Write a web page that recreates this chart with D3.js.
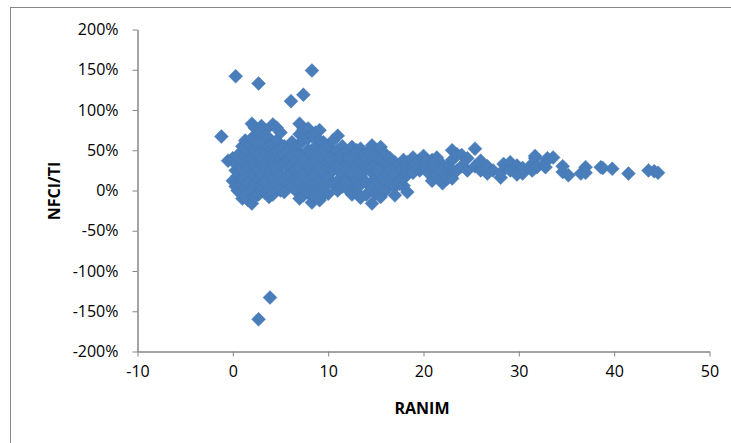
<!DOCTYPE html>
<html>
<head>
<meta charset="utf-8">
<script src="https://cdn.jsdelivr.net/npm/d3@7/dist/d3.min.js"></script>
<style>
  html, body { margin: 0; padding: 0; background: #fff; }
  svg { display: block; }
  text { font-family: "Open Sans", "Liberation Sans", sans-serif; }
</style>
</head>
<body>
<svg id="chart" width="731" height="443"></svg>
<script>
// ---- data ----
const ranim = [
  -1.2, -0.5,
  0.0, 0.0,
  0.3, 0.3, 0.3,
  0.5, 0.5, 0.5,
  0.8, 0.8, 0.8, 0.8,
  1.0, 1.0, 1.0, 1.0,
  1.3, 1.3, 1.3, 1.3, 1.3,
  1.6, 1.6, 1.6, 1.6, 1.6,
  2.0, 2.0, 2.0, 2.0, 2.0, 2.0,
  2.3, 2.3, 2.3, 2.3, 2.3, 2.3,
  2.7, 2.7, 2.7, 2.7, 2.7, 2.7,
  3.0, 3.0, 3.0, 3.0, 3.0,
  3.4, 3.4, 3.4, 3.4, 3.4, 3.4,
  3.8, 3.8, 3.8, 3.8, 3.8, 3.8,
  4.2, 4.2, 4.2, 4.2, 4.2, 4.2,
  4.6, 4.6, 4.6, 4.6, 4.6,
  5.0, 5.0, 5.0, 5.0, 5.0, 5.0,
  5.4, 5.4, 5.4, 5.4, 5.4,
  5.8, 5.8, 5.8, 5.8, 5.8,
  6.2, 6.2, 6.2, 6.2, 6.2,
  6.6, 6.6, 6.6, 6.6, 6.6,
  7.0, 7.0, 7.0, 7.0, 7.0, 7.0, 7.0,
  7.4, 7.4, 7.4, 7.4, 7.4, 7.4,
  7.9, 7.9, 7.9, 7.9, 7.9, 7.9,
  8.3, 8.3, 8.3, 8.3, 8.3, 8.3,
  8.7, 8.7, 8.7, 8.7, 8.7, 8.7,
  9.1, 9.1, 9.1, 9.1, 9.1, 9.1,
  9.5, 9.5, 9.5, 9.5, 9.5, 9.5,
  10.0, 10.0, 10.0, 10.0, 10.0,
  10.5, 10.5, 10.5, 10.5, 10.5,
  11.0, 11.0, 11.0, 11.0, 11.0,
  11.5, 11.5, 11.5, 11.5, 11.5,
  12.0, 12.0, 12.0, 12.0, 12.0,
  12.5, 12.5, 12.5, 12.5, 12.5,
  13.0, 13.0, 13.0, 13.0, 13.0,
  13.4, 13.4, 13.4, 13.4, 13.4,
  14.0, 14.0, 14.0, 14.0, 14.0,
  14.6, 14.6, 14.6, 14.6, 14.6, 14.6,
  15.0, 15.0, 15.0, 15.0, 15.0,
  15.5, 15.5, 15.5, 15.5, 15.5, 15.5,
  16.0, 16.0, 16.0, 16.0, 16.0,
  16.5, 16.5, 16.5, 16.5,
  17.0, 17.0, 17.0, 17.0, 17.0,
  17.5, 17.5, 17.5, 17.5,
  17.9, 17.9, 17.9, 17.9,
  18.3, 18.3, 18.3, 18.3,
  18.9, 18.9, 18.9,
  19.6, 19.6, 19.6,
  20.0, 20.0,
  20.5, 20.5,
  20.9, 20.9, 20.9,
  21.4, 21.4, 21.4,
  22.0, 22.0, 22.0,
  22.5, 22.5,
  23.0, 23.0, 23.0, 23.0,
  23.5, 23.5,
  24.0, 24.0,
  24.6, 24.6,
  25.4, 25.4,
  26.0, 26.0,
  26.7, 26.7,
  27.3,
  28.1, 28.1,
  28.4,
  29.1, 29.1,
  29.8, 29.8,
  30.4, 30.4,
  31.4, 31.4,
  31.7, 31.7,
  31.9,
  32.8, 32.8,
  33.0,
  33.6,
  34.6, 34.6,
  35.2,
  36.5,
  37.0, 37.0,
  38.6,
  38.8,
  39.8,
  41.5,
  43.6,
  44.2,
  44.6,
  // extra fill of the dense core
  10.2, 11.2, 12.2, 12.8, 13.7, 14.3, 15.2, 16.2, 16.8, 11.8, 13.2, 15.8,
  19.2, 20.2, 21.0, 21.8,
  // outliers
  0.3, 2.7, 6.1, 7.4, 8.3, 2.7, 3.9
];
const nfciTi = [
  0.67, 0.37,
  0.40, 0.12,
  0.05, 0.25, 0.33,
  0.00, 0.18, 0.42,
  0.08, 0.28, 0.47, -0.03,
  -0.10, 0.15, 0.35, 0.55,
  0.62, 0.22, 0.03, 0.44, -0.07,
  0.50, 0.30, 0.10, -0.12, 0.58,
  0.83, 0.40, 0.20, 0.00, -0.16, 0.65,
  0.78, 0.48, 0.28, 0.08, -0.08, 0.35,
  0.70, 0.55, 0.15, -0.05, 0.25, 0.45,
  0.80, 0.38, 0.18, 0.05, 0.60,
  0.75, 0.50, 0.30, 0.10, -0.03, 0.68,
  0.65, 0.42, 0.22, 0.02, -0.08, 0.55,
  0.82, 0.58, 0.35, 0.15, -0.05, 0.45,
  0.78, 0.48, 0.26, 0.08, 0.62,
  0.72, 0.40, 0.20, 0.00, 0.52, 0.32,
  0.55, 0.35, 0.12, -0.02, 0.45,
  0.48, 0.28, 0.08, 0.38, 0.18,
  0.60, 0.42, 0.22, 0.05, 0.32,
  0.52, 0.35, 0.15, 0.00, 0.25,
  0.83, 0.70, 0.45, 0.28, 0.10, -0.10, 0.58,
  0.76, 0.62, 0.40, 0.20, 0.02, -0.06,
  0.77, 0.50, 0.30, 0.12, -0.03, 0.65,
  0.68, 0.45, 0.25, 0.08, -0.15, 0.35,
  0.72, 0.55, 0.38, 0.18, 0.00, -0.08,
  0.75, 0.48, 0.30, 0.10, -0.12, 0.62,
  0.60, 0.40, 0.22, 0.05, -0.05, 0.50,
  0.55, 0.35, 0.15, -0.04, 0.28,
  0.62, 0.45, 0.25, 0.08, 0.38,
  0.68, 0.50, 0.30, 0.12, 0.00,
  0.55, 0.38, 0.20, 0.05, 0.45,
  0.48, 0.32, 0.15, 0.02, 0.25,
  0.54, 0.38, 0.22, 0.08, -0.05,
  0.50, 0.30, 0.12, -0.02, 0.42,
  0.52, 0.35, 0.18, -0.09, 0.25,
  0.45, 0.28, 0.10, -0.05, 0.38,
  0.56, 0.40, 0.22, 0.05, -0.16, 0.30,
  0.50, 0.32, 0.15, -0.04, 0.42,
  0.54, 0.38, 0.20, 0.05, -0.08, 0.28,
  0.45, 0.30, 0.12, 0.00, 0.35,
  0.40, 0.25, 0.10, 0.32,
  0.35, 0.20, 0.05, -0.06, 0.28,
  0.32, 0.18, 0.08, 0.25,
  0.38, 0.25, 0.06, 0.15,
  0.35, 0.20, -0.02, 0.28,
  0.41, 0.30, 0.22,
  0.38, 0.25, 0.32,
  0.43, 0.30,
  0.35, 0.22,
  0.12, 0.28, 0.38,
  0.41, 0.25, 0.18,
  0.09, 0.20, 0.32,
  0.15, 0.28,
  0.50, 0.25, 0.15, 0.38,
  0.25, 0.45,
  0.44, 0.30,
  0.25, 0.40,
  0.52, 0.30,
  0.37, 0.25,
  0.21, 0.30,
  0.25,
  0.16, 0.22,
  0.33,
  0.35, 0.25,
  0.31, 0.20,
  0.21, 0.28,
  0.33, 0.25,
  0.40, 0.43,
  0.29,
  0.29, 0.35,
  0.40,
  0.41,
  0.23, 0.30,
  0.19,
  0.21,
  0.29, 0.22,
  0.29,
  0.28,
  0.27,
  0.21,
  0.25,
  0.24,
  0.22,
  // extra fill of the dense core
  0.40, 0.42, 0.40, 0.45, 0.44, 0.48, 0.24, 0.22, 0.20, 0.10, 0.05, 0.15,
  0.33, 0.36, 0.33, 0.25,
  // outliers
  1.42, 1.33, 1.11, 1.19, 1.49, -1.60, -1.33
];
const xTicks = [-10, 0, 10, 20, 30, 40, 50];
const yTicks = [-2, -1.5, -1, -0.5, 0, 0.5, 1, 1.5, 2];
const xTitle = "RANIM";
const yTitle = "NFCI/TI";

// ---- drawing ----
const svg = d3.select("#chart");
const axisColor = "#868686";
const markColor = "#4a7ebb";

// chart-area border (extends past the right/bottom edges as in the reference)
svg.append("rect")
  .attr("x", 10.5).attr("y", 7.5)
  .attr("width", 740).attr("height", 450)
  .attr("fill", "#fff")
  .attr("stroke", axisColor).attr("stroke-width", 1);

const x = d3.scaleLinear().domain([-10, 50]).range([137.5, 709.5]);
const y = d3.scaleLinear().domain([-2, 2]).range([351.5, 29.5]);

const hyphen = s => s.replace("\u2212", "-");
const xAxis = d3.axisBottom(x).tickValues(xTicks).tickSizeInner(5).tickSizeOuter(0)
  .tickPadding(9).tickFormat(d => hyphen(d3.format("d")(d)));
const yAxis = d3.axisLeft(y).tickValues(yTicks).tickSizeInner(5).tickSizeOuter(0)
  .tickPadding(14).tickFormat(d => hyphen(d3.format(".0%")(d)));

const gx = svg.append("g").attr("transform", `translate(0,${y(-2)})`).call(xAxis);
const gy = svg.append("g").attr("transform", `translate(${x(-10)},0)`).call(yAxis);

[gx, gy].forEach(g => {
  g.selectAll("path.domain").attr("stroke", axisColor).attr("stroke-width", 1.5);
  g.selectAll(".tick line").attr("stroke", axisColor).attr("stroke-width", 1);
  g.selectAll(".tick text").attr("fill", "#000")
    .style("font-size", "16px").style("font-family", "'Open Sans', sans-serif");
});
gx.selectAll(".tick text").attr("dy", "0.72em");

// points
const pts = ranim.map((v, i) => ({ rx: v, ry: nfciTi[i] }));
const r = 7;
svg.append("g").selectAll("path").data(pts).join("path")
  .attr("transform", d => `translate(${x(d.rx)},${y(d.ry)})`)
  .attr("d", `M0,${-r}L${r},0L0,${r}L${-r},0Z`)
  .attr("fill", markColor)
  .attr("stroke", "#4577b3").attr("stroke-width", 0.4);

// axis titles
svg.append("text")
  .attr("x", 422).attr("y", 410).attr("text-anchor", "middle")
  .attr("dominant-baseline", "middle")
  .style("font-size", "16px").style("font-weight", "bold").attr("fill", "#000")
  .text(xTitle);

svg.append("text")
  .attr("transform", "translate(56,191) rotate(-90)")
  .attr("text-anchor", "middle").attr("dominant-baseline", "middle")
  .style("font-size", "16px").style("font-weight", "bold").attr("fill", "#000")
  .text(yTitle);
</script>
</body>
</html>
